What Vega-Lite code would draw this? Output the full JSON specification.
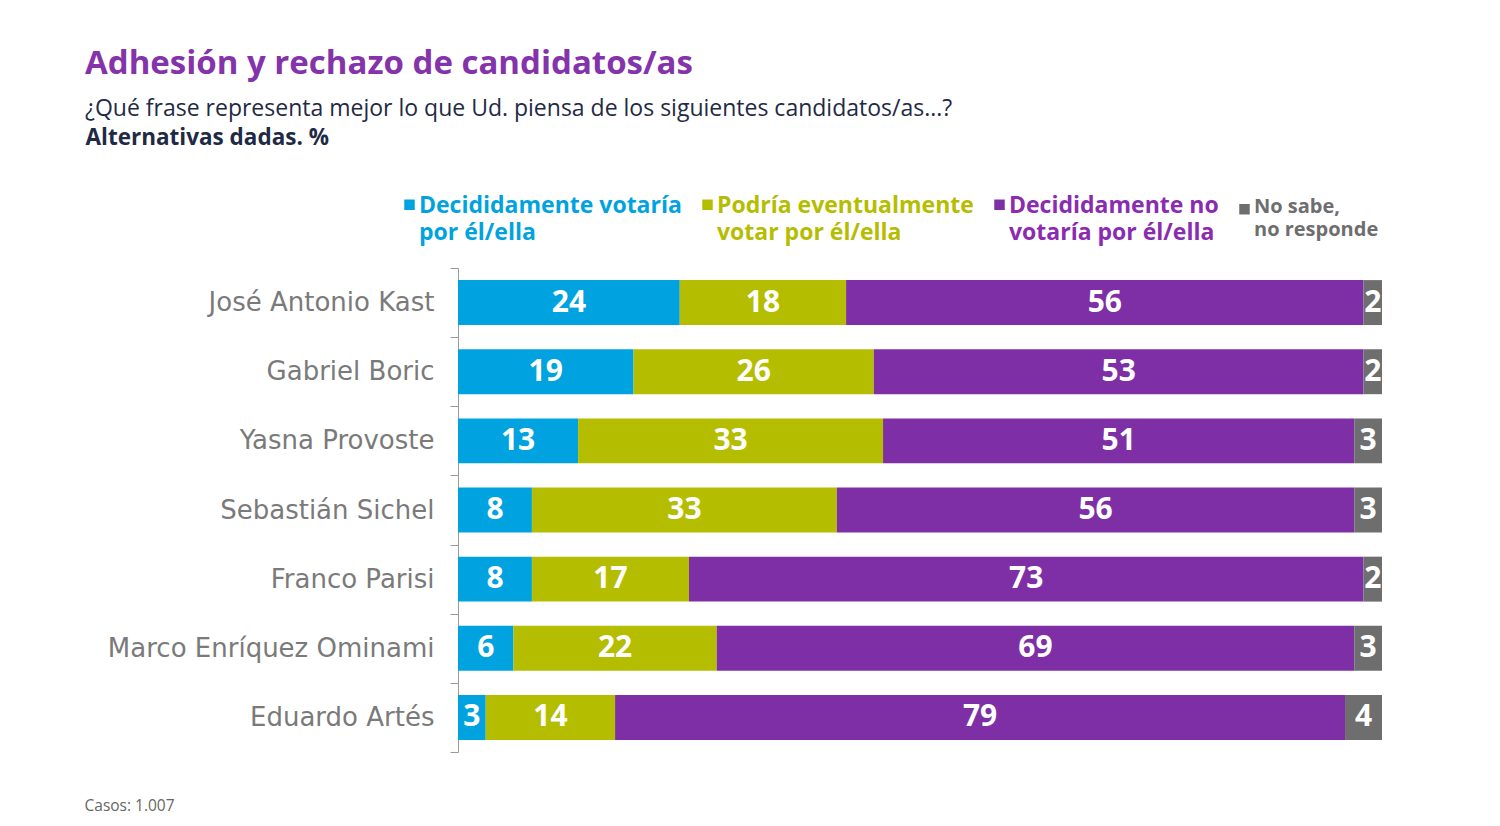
{
  "$schema": "https://vega.github.io/schema/vega-lite/v6.json",
  "width": 924,
  "height": 484,
  "autosize": {"type": "none"},
  "padding": {"left": 458, "top": 268, "right": 118, "bottom": 74},
  "background": "white",
  "config": {"view": {"stroke": null}},
  "title": {
    "text": "Adhesión y rechazo de candidatos/as",
    "subtitle": "¿Qué frase representa mejor lo que Ud. piensa de los siguientes candidatos/as...?",
    "anchor": "start",
    "frame": "group",
    "dx": -373,
    "dy": -5,
    "offset": 0,
    "font": "Open Sans",
    "fontSize": 33,
    "fontWeight": "bold",
    "color": "#8533ab",
    "subtitleFont": "Open Sans",
    "subtitleFontSize": 23,
    "subtitleColor": "#1f2a44",
    "subtitlePadding": 17
  },
  "data": {
    "values": [
      {"candidato": "José Antonio Kast", "respuesta": "Decididamente votaría por él/ella", "orden": 1, "pct": 24},
      {"candidato": "José Antonio Kast", "respuesta": "Podría eventualmente votar por él/ella", "orden": 2, "pct": 18},
      {"candidato": "José Antonio Kast", "respuesta": "Decididamente no votaría por él/ella", "orden": 3, "pct": 56},
      {"candidato": "José Antonio Kast", "respuesta": "No sabe, no responde", "orden": 4, "pct": 2},
      {"candidato": "Gabriel Boric", "respuesta": "Decididamente votaría por él/ella", "orden": 1, "pct": 19},
      {"candidato": "Gabriel Boric", "respuesta": "Podría eventualmente votar por él/ella", "orden": 2, "pct": 26},
      {"candidato": "Gabriel Boric", "respuesta": "Decididamente no votaría por él/ella", "orden": 3, "pct": 53},
      {"candidato": "Gabriel Boric", "respuesta": "No sabe, no responde", "orden": 4, "pct": 2},
      {"candidato": "Yasna Provoste", "respuesta": "Decididamente votaría por él/ella", "orden": 1, "pct": 13},
      {"candidato": "Yasna Provoste", "respuesta": "Podría eventualmente votar por él/ella", "orden": 2, "pct": 33},
      {"candidato": "Yasna Provoste", "respuesta": "Decididamente no votaría por él/ella", "orden": 3, "pct": 51},
      {"candidato": "Yasna Provoste", "respuesta": "No sabe, no responde", "orden": 4, "pct": 3},
      {"candidato": "Sebastián Sichel", "respuesta": "Decididamente votaría por él/ella", "orden": 1, "pct": 8},
      {"candidato": "Sebastián Sichel", "respuesta": "Podría eventualmente votar por él/ella", "orden": 2, "pct": 33},
      {"candidato": "Sebastián Sichel", "respuesta": "Decididamente no votaría por él/ella", "orden": 3, "pct": 56},
      {"candidato": "Sebastián Sichel", "respuesta": "No sabe, no responde", "orden": 4, "pct": 3},
      {"candidato": "Franco Parisi", "respuesta": "Decididamente votaría por él/ella", "orden": 1, "pct": 8},
      {"candidato": "Franco Parisi", "respuesta": "Podría eventualmente votar por él/ella", "orden": 2, "pct": 17},
      {"candidato": "Franco Parisi", "respuesta": "Decididamente no votaría por él/ella", "orden": 3, "pct": 73},
      {"candidato": "Franco Parisi", "respuesta": "No sabe, no responde", "orden": 4, "pct": 2},
      {"candidato": "Marco Enríquez Ominami", "respuesta": "Decididamente votaría por él/ella", "orden": 1, "pct": 6},
      {"candidato": "Marco Enríquez Ominami", "respuesta": "Podría eventualmente votar por él/ella", "orden": 2, "pct": 22},
      {"candidato": "Marco Enríquez Ominami", "respuesta": "Decididamente no votaría por él/ella", "orden": 3, "pct": 69},
      {"candidato": "Marco Enríquez Ominami", "respuesta": "No sabe, no responde", "orden": 4, "pct": 3},
      {"candidato": "Eduardo Artés", "respuesta": "Decididamente votaría por él/ella", "orden": 1, "pct": 3},
      {"candidato": "Eduardo Artés", "respuesta": "Podría eventualmente votar por él/ella", "orden": 2, "pct": 14},
      {"candidato": "Eduardo Artés", "respuesta": "Decididamente no votaría por él/ella", "orden": 3, "pct": 79},
      {"candidato": "Eduardo Artés", "respuesta": "No sabe, no responde", "orden": 4, "pct": 4}
    ]
  },
  "encoding": {
    "y": {
      "field": "candidato",
      "type": "nominal",
      "sort": null,
      "scale": {"paddingInner": 0, "paddingOuter": 0},
      "axis": {
        "title": "Alternativas dadas. %",
        "titleAngle": 0,
        "titleX": -373,
        "titleY": -124,
        "titleAlign": "left",
        "titleBaseline": "alphabetic",
        "titleFont": "Open Sans",
        "titleFontSize": 22.5,
        "titleFontWeight": "bold",
        "titleColor": "#1f2a44",
        "domainColor": "#9a9a9a",
        "tickColor": "#9a9a9a",
        "tickBand": "extent",
        "tickSize": 8,
        "labelPadding": 16,
        "labelFont": "DejaVu Sans",
        "labelFontSize": 26,
        "labelColor": "#7a7a7a",
        "labelLimit": 400
      }
    },
    "order": {"field": "orden"}
  },
  "layer": [
    {
      "mark": {"type": "bar", "height": {"band": 0.65}},
      "encoding": {
        "x": {
          "field": "pct",
          "type": "quantitative",
          "stack": "zero",
          "scale": {"domain": [0, 100], "nice": false},
          "axis": {
            "title": "Casos: 1.007",
            "labels": false,
            "ticks": false,
            "domain": false,
            "grid": false,
            "titleX": -374,
            "titleY": 58,
            "titleAlign": "left",
            "titleBaseline": "alphabetic",
            "titleFont": "Open Sans",
            "titleFontSize": 15.5,
            "titleFontWeight": "normal",
            "titleColor": "#666666"
          }
        },
        "color": {
          "field": "respuesta",
          "type": "nominal",
          "scale": {
            "domain": [
              "Decididamente votaría por él/ella",
              "Podría eventualmente votar por él/ella",
              "Decididamente no votaría por él/ella",
              "No sabe, no responde"
            ],
            "range": ["#00a3e0", "#b5bd00", "#7e2fa6", "#6e6e6e"]
          },
          "legend": {
            "orient": "none",
            "legendX": -60,
            "legendY": -75,
            "direction": "horizontal",
            "title": null,
            "padding": 0,
            "symbolType": "square",
            "symbolSize": 110,
            "symbolStrokeWidth": 0,
            "labelOffset": -2,
            "columnPadding": 14,
            "labelFont": "Open Sans",
            "labelFontSize": 23,
            "labelFontWeight": "bold",
            "labelLimit": 400,
            "labelBaseline": "alphabetic",
            "labelExpr": "datum.value == 'Decididamente votaría por él/ella' ? ['Decididamente votaría', 'por él/ella'] : datum.value == 'Podría eventualmente votar por él/ella' ? ['Podría eventualmente', 'votar por él/ella'] : datum.value == 'Decididamente no votaría por él/ella' ? ['Decididamente no', 'votaría por él/ella'] : ['No sabe,', 'no responde']",
            "encode": {
              "labels": {
                "update": {
                  "fill": {"signal": "datum.value == 'Decididamente no votaría por él/ella' ? '#8a2bb0' : scale('color', datum.value)"},
                  "fontSize": {"signal": "datum.value == 'No sabe, no responde' ? 20 : 23"},
                  "lineHeight": {"signal": "datum.value == 'No sabe, no responde' ? 23 : 27"},
                  "dy": {"signal": "datum.value == 'No sabe, no responde' ? 4 : 8"}
                }
              }
            }
          }
        }
      }
    },
    {
      "mark": {
        "type": "text",
        "color": "white",
        "font": "Open Sans",
        "fontSize": 30,
        "fontWeight": "bold",
        "baseline": "middle"
      },
      "encoding": {
        "x": {"field": "pct", "type": "quantitative", "stack": "zero", "bandPosition": 0.5},
        "text": {"field": "pct", "type": "quantitative"}
      }
    }
  ]
}
